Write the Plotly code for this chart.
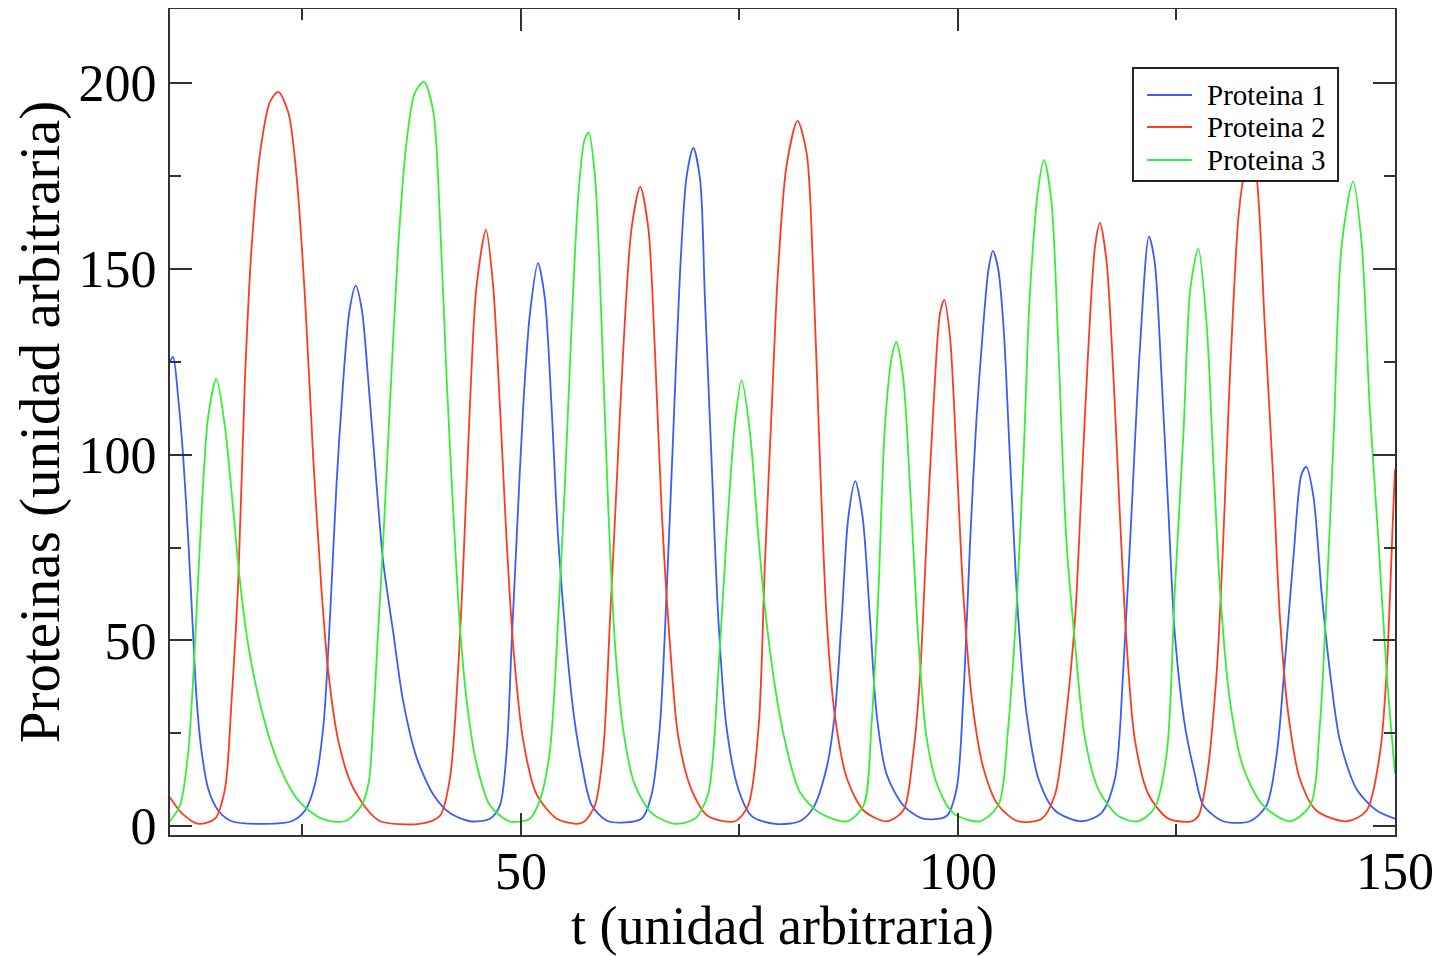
import plotly.graph_objects as go

# ---- Data ----
t_p1 = [9.84, 10.2, 10.8, 11.37, 11.94, 12.4, 12.9, 13.47, 14.23, 15.37, 16.9, 20.7, 23.76, 25.3, 26.4, 27.4,
        28.15, 28.9, 29.67, 30.4, 31.1, 31.8, 32.5, 33.48, 34.25, 35.4, 36.5, 38.06, 39.97, 41.87, 44.2, 46.45,
        47.6, 48.36, 48.93, 49.5, 50.26, 51.03, 51.95, 52.74, 53.5, 54.27, 55.2, 56.1, 56.94, 58.1, 60.0, 63.8,
        64.95, 65.9, 66.67, 67.43, 68.2, 68.96, 69.72, 70.5, 71.05, 71.8, 72.58, 73.5, 74.87, 76.4, 79.1, 81.9,
        83.44, 84.97, 85.9, 86.7, 87.45, 88.25, 89.1, 89.93, 90.7, 91.83, 93.74, 96.0, 98.7, 99.84, 100.6, 101.4,
        102.1, 102.9, 103.5, 104.0, 104.6, 105.2, 105.95, 106.9, 107.86, 109.2, 111.1, 114.15, 116.4, 117.96,
        118.9, 119.87, 120.8, 121.85, 122.5, 123.3, 124.07, 124.8, 125.97, 127.1, 128.07, 130.35, 133.4, 135.3,
        136.5, 137.4, 138.4, 139.3, 139.85, 140.65, 141.6, 142.56, 143.7, 145.6, 147.9, 150.0]
p1 = [125.0, 126.3, 115, 99, 77, 56, 34, 20, 10, 4.2, 1.3, 0.6, 1.3, 4.2, 11, 27,
      56, 92, 120, 139, 145.5, 139, 121, 92, 71, 52, 34, 18.5, 8.5, 3.5, 1.3, 2,
      5.6, 20, 48.7, 77, 113, 138, 151.6, 142, 113, 77, 49, 29, 17, 5.6, 1.3, 2,
      8.5, 27, 63, 106, 149, 175, 182.6, 174, 142, 99, 56, 27, 10, 2.7, 0.6, 1.3,
      4.9, 15.7, 30, 56, 83, 92.9, 83, 56, 30, 14, 5.6, 2, 2.7, 10, 34, 77,
      109, 135, 150, 154.9, 150, 135, 99, 56, 30, 12.8, 4.2, 1.3, 3.5, 12.8,
      41.5, 85, 128, 158.7, 152, 120.5, 85, 52, 27, 14, 5.6, 1.3, 1.3, 5.6,
      20, 44, 73, 94.7, 96.7, 89, 63, 41.5, 23, 10, 4.2, 2]

t_p2 = [9.84, 11.2, 13.1, 15.0, 16.13, 16.9, 17.66, 18.42, 19.19, 20.14, 21.28, 22.24, 23.4, 24.33, 25.3, 26.24,
        27.2, 27.96, 29.1, 30.6, 32.5, 33.9, 38.4, 40.7, 41.87, 42.8, 43.4, 44.16, 44.9, 46.0, 46.8, 47.6,
        48.36, 49.1, 50.26, 51.8, 54.1, 56.4, 57.3, 58.47, 59.4, 60.2, 60.95, 61.7, 62.66, 63.65, 64.57, 65.33,
        66.1, 67.05, 68.0, 69.5, 71.4, 74.5, 76.0, 77.2, 77.9, 78.7, 79.4, 80.4, 81.65, 82.7, 83.44, 84.2,
        84.97, 85.9, 87.3, 89.2, 91.8, 93.74, 94.9, 95.65, 96.4, 97.2, 97.94, 98.43, 99.08, 99.84, 100.6, 101.6,
        102.9, 104.6, 106.9, 109.6, 111.1, 112.24, 113.4, 114.15, 114.9, 115.7, 116.25, 117.0, 117.8, 118.5,
        119.3, 120.25, 121.8, 124.07, 126.7, 127.5, 128.45, 129.6, 130.35, 131.1, 132.07, 132.6, 133.4, 134.2,
        135.1, 136.1, 136.84, 137.8, 139.1, 141.0, 144.5, 146.75, 148.3, 149.04, 149.8, 150.0]
p2 = [7.8, 3.5, 0.6, 2, 9.9, 34, 66, 120, 156, 181, 195, 197.7, 192, 175, 142, 99,
      63, 41.5, 23, 11.3, 4.2, 1.3, 0.6, 2.7, 12.8, 41.5, 70, 113, 145, 160.5, 146, 113,
      77, 49, 23, 8.5, 2, 0.6, 1.3, 5.6, 20, 56, 92, 128, 161, 172.1, 161, 128,
      85, 49, 24, 9.9, 2.7, 1.3, 5.6, 27, 70, 113, 149, 178, 189.9, 181, 149, 99,
      56, 30, 12.8, 4.2, 1.3, 4.2, 20, 40, 77, 113, 138, 141.7, 132, 99, 63, 34,
      15.7, 5.6, 1.3, 2, 8.5, 27, 56, 92, 128, 156.5, 162.4, 152, 120.5, 85,
      49, 23, 8.5, 2, 1.3, 2.7, 12.8, 41.5, 77, 120.5, 163.6, 174, 184, 174,
      135, 92, 56, 30, 12.8, 4.2, 1.3, 4.2, 20, 41.5, 85, 96]

t_p3 = [9.84, 11.0, 11.94, 12.7, 13.47, 14.23, 15.15, 16.13, 17.09, 17.85, 18.8, 20.3, 22.2, 24.5, 27.2, 29.86,
        31.77, 32.6, 33.1, 33.6, 34.25, 35.0, 35.96, 36.9, 37.87, 38.9, 39.97, 40.73, 41.5, 42.25, 43.0, 43.78,
        44.9, 46.45, 48.7, 51.0, 52.17, 53.3, 54.27, 55.03, 55.8, 56.6, 57.3, 57.75, 58.47, 59.23, 60.0, 60.76,
        61.7, 63.0, 64.95, 67.6, 69.9, 71.4, 72.58, 73.5, 74.5, 75.25, 76.2, 77.2, 77.9, 79.1, 80.2, 81.9,
        84.2, 87.3, 89.2, 90.1, 90.9, 91.6, 92.4, 92.95, 93.74, 94.5, 95.5, 96.4, 97.6, 99.46, 102.5, 104.6,
        105.76, 106.7, 107.5, 108.2, 109.2, 109.85, 110.7, 111.5, 112.4, 113.4, 114.5, 116.06, 118.35, 120.6,
        122.5, 123.9, 124.8, 125.8, 126.6, 127.5, 128.45, 129.2, 130.0, 131.1, 132.65, 134.9, 138.0, 140.3,
        141.4, 142.2, 143.0, 143.9, 145.2, 146.2, 147.1, 148.1, 149.04, 150.0]
p3 = [1.3, 5.6, 20, 48.7, 85, 110.5, 120.4, 107.6, 85, 66, 48.7, 31.5, 17.1, 7, 2, 1.3,
      5.6, 12, 28, 50, 77, 113, 156, 184, 197.4, 200.4, 192.4, 163.6, 120.5, 85, 54.5, 34,
      17, 5.6, 1.3, 2, 7, 20, 56, 92, 135, 171, 185, 186.7, 175, 135, 85, 49,
      26, 11.3, 3.5, 0.6, 2, 8.5, 41.5, 77, 109, 120.1, 106, 77, 59, 37, 23, 9.2,
      3.5, 1.3, 5.6, 27, 63, 106, 126, 130.4, 120.5, 92, 49, 24, 11.3, 3.5, 1.3, 5.6,
      27, 59, 99, 142, 172, 179.4, 168, 128, 77, 49, 24, 9.9, 2.7, 1.3,
      4.9, 20, 63, 106, 145, 155.4, 135, 99, 63, 34, 15.7, 5.6, 1.3, 5.6,
      27, 63, 106, 156.5, 173.5, 156.5, 113, 77, 41.5, 14.2]

series_names = ["Proteina 1", "Proteina 2", "Proteina 3"]
series_colors = ["#3a5bff", "#ff3a20", "#33f033"]
x_tick_vals = [50, 100, 150]
y_tick_vals = [0, 50, 100, 150, 200]

FONT = "Liberation Serif, Times New Roman, serif"

fig = go.Figure()
for name, tx, vy, col in zip(series_names, [t_p1, t_p2, t_p3], [p1, p2, p3], series_colors):
    fig.add_trace(go.Scatter(x=tx, y=vy, mode="lines", name=name, showlegend=False,
                             line=dict(color=col, width=1.8, shape="spline", smoothing=0.8)))

axis_common = dict(
    showgrid=False, zeroline=False, showline=True, linecolor="#333333", linewidth=2,
    mirror="allticks", ticks="inside", tickcolor="#333333", tickwidth=2, ticklen=22,
    tickfont=dict(family=FONT, size=52, color="black"), automargin=False,
)

fig.update_xaxes(range=[9.85, 150], tickvals=x_tick_vals, ticklabelstandoff=-10,
                 minor=dict(ticks="inside", ticklen=11, dtick=25, tick0=0, tickcolor="#333333", tickwidth=2),
                 title=dict(text="t (unidad arbitraria)", font=dict(family=FONT, size=54, color="black"),
                            standoff=20),
                 **axis_common)
fig.update_yaxes(range=[-2.4, 220], tickvals=y_tick_vals, ticklabelstandoff=1,
                 minor=dict(ticks="inside", ticklen=11, dtick=25, tick0=0, tickcolor="#333333", tickwidth=2),
                 title=dict(text="Proteinas (unidad arbitraria)", font=dict(family=FONT, size=57, color="black"),
                            standoff=20),
                 **axis_common)

# ---- Legend box (drawn in paper coordinates) ----
leg_x0, leg_x1, leg_y0, leg_y1 = 0.7861, 0.9535, 0.7918, 0.9286
row_y = [0.8959, 0.8571, 0.8172]
shapes = [dict(type="rect", xref="paper", yref="paper", x0=leg_x0, x1=leg_x1, y0=leg_y0, y1=leg_y1,
               fillcolor="white", line=dict(color="#222222", width=2), layer="above")]
annotations = []
for name, col, ry in zip(series_names, series_colors, row_y):
    shapes.append(dict(type="line", xref="paper", yref="paper", x0=0.7976, x1=0.8343, y0=ry, y1=ry,
                       line=dict(color=col, width=2), layer="above"))
    annotations.append(dict(xref="paper", yref="paper", x=0.8449, y=ry, text=name, showarrow=False,
                            xanchor="left", yanchor="middle",
                            font=dict(family=FONT, size=29, color="black")))

fig.update_layout(
    width=1433, height=948,
    margin=dict(l=162, r=46, t=1, b=121),
    paper_bgcolor="white", plot_bgcolor="white",
    showlegend=False,
    shapes=shapes, annotations=annotations,
)

fig.write_html("out.html")
